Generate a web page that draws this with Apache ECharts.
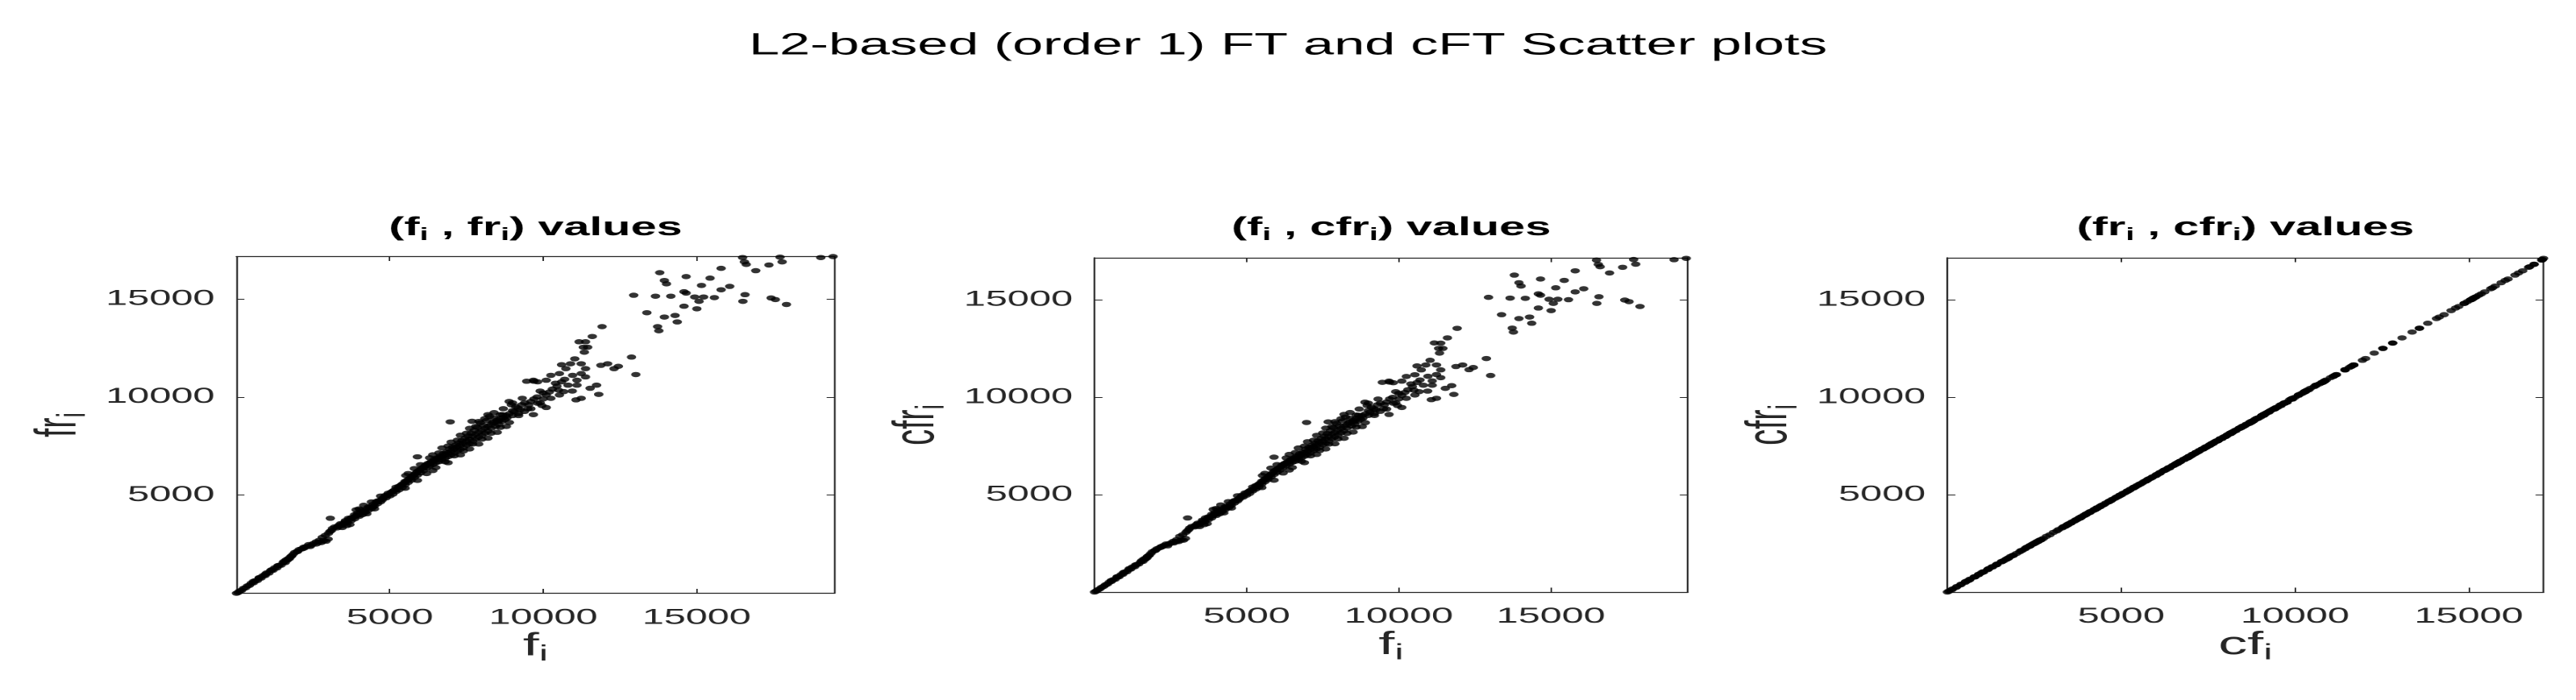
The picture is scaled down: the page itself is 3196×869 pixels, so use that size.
<!DOCTYPE html>
<html>
<head>
<meta charset="utf-8">
<title>L2-based (order 1) FT and cFT Scatter plots</title>
<script src="https://cdn.jsdelivr.net/npm/echarts@6/dist/echarts.min.js"></script>
<style>
  html, body { margin: 0; padding: 0; background: #fff; overflow: hidden; }
  /* the reference figure is stretched sideways, so draw narrow and stretch */
  #chart { width: 1776px; height: 869px; transform: scaleX(1.79955); transform-origin: 0 0; }
</style>
</head>
<body>
<div id="chart"></div>
<script>
// (f_i, fr_i) pairs
const fFr = [
  [0, 0], [50, 40], [110, 120], [170, 150], [230, 250], [300, 280], [360, 380], [420, 400], [480, 510], [550, 530],
  [610, 640], [680, 650], [740, 780], [800, 770], [870, 900], [930, 900], [990, 1040], [1060, 1030], [1120, 1160], [1190, 1170],
  [1250, 1300], [1320, 1290], [1380, 1420], [1450, 1430], [1520, 1560], [1590, 1560], [1660, 1690], [1720, 1760], [1780, 1880], [1850, 1990],
  [1900, 2080], [1980, 2120], [2050, 2230], [2130, 2260], [2200, 2350], [2280, 2380], [2360, 2480], [2440, 2450], [2520, 2540], [2600, 2510],
  [2680, 2600], [2760, 2580], [2840, 2680], [2920, 2650], [2990, 2760], [3060, 3820], [3130, 3300], [3200, 3380], [3280, 3330], [3350, 3480],
  [3420, 3440], [3500, 3560], [3560, 3650], [3620, 3590], [3680, 3760], [3740, 3700], [3800, 3860], [3850, 3790], [3900, 3950], [3950, 4080],
  [4000, 3920], [4050, 4110], [4100, 4000], [4150, 4200], [4200, 4120], [4250, 4300], [4300, 4230], [4350, 4380], [4400, 4320], [4450, 4520],
  [4500, 4450], [4550, 4640], [4600, 4560], [4650, 4720], [4700, 4660], [4760, 4820], [4820, 4900], [4880, 4860], [4940, 5020], [5000, 4960],
  [3900, 4250], [4150, 4480], [4400, 4650], [3700, 3500], [4250, 4050], [5050, 5150], [5100, 5050], [5150, 5250], [5200, 5180], [5250, 5350],
  [5300, 5270], [5350, 5480], [5400, 5380], [5450, 5600], [5500, 5530], [5520, 6000], [5550, 5720], [5600, 5650], [5650, 5850], [5700, 5760],
  [5750, 5990], [5800, 5900], [5850, 6120], [5900, 6950], [5900, 6020], [5950, 6250], [6000, 6130], [6050, 6380], [6100, 6250], [6150, 6500],
  [6200, 6380], [6250, 6620], [6300, 6480], [6350, 6700], [6400, 6560], [6450, 6820], [6500, 6650], [6550, 6900], [6600, 6700], [6650, 7000],
  [6700, 6800], [6750, 7120], [6800, 6880], [6850, 7200], [6900, 6960], [6950, 7350], [6970, 8730], [7000, 7050], [7050, 7450], [7100, 7150],
  [7150, 7550], [7200, 7250], [7250, 7650], [7300, 7330], [7350, 7780], [7400, 7420], [7450, 7900], [7500, 7550], [7550, 8000], [7600, 7620],
  [7650, 8150], [7680, 8760], [7700, 7750], [7750, 8300], [7800, 7850], [7850, 8450], [7900, 7950], [7950, 8680], [8000, 8050], [8050, 8550],
  [8100, 8150], [8150, 8800], [8200, 8250], [8250, 9010], [8300, 8400], [8350, 8700], [8400, 8930], [8450, 8500], [8500, 8820], [8540, 8760],
  [8550, 8600], [8600, 9100], [8650, 8750], [8680, 9100], [8750, 8850], [8820, 8930], [8890, 9770], [8960, 9600], [9000, 9050], [9050, 9250],
  [9100, 9500], [9180, 9430], [9250, 9350], [9320, 9930], [9390, 9260], [9460, 10800], [9530, 9600], [9600, 9770], [9680, 9100], [9680, 10850],
  [9700, 10800], [9820, 9680], [9820, 10770], [9960, 9560], [10100, 9460], [9900, 10300], [10000, 9900], [10100, 10850], [10100, 10100], [10200, 10250],
  [10250, 11100], [10250, 9930], [10300, 10400], [10400, 10700], [10450, 10550], [10500, 10350], [10530, 11190], [10530, 10100], [10600, 11640], [10600, 10770],
  [10670, 10270], [10700, 10900], [10740, 11440], [10810, 10600], [10890, 11690], [10950, 10300], [10960, 11100], [11030, 11940], [11070, 9850], [11100, 10850],
  [11100, 10600], [11240, 11690], [11240, 11190], [11240, 9930], [11380, 11440], [11380, 11020], [11530, 10440], [11740, 10600], [11810, 10130], [11880, 11610],
  [12100, 11690], [12310, 11440], [12450, 11560], [12880, 12030], [13020, 11140], [11920, 13580], [11600, 13080], [11380, 12810], [11170, 12810], [11310, 12530],
  [11450, 12530], [11340, 12280], [12950, 15180], [13380, 14290], [13660, 15130], [13730, 13580], [13770, 13370], [13800, 16330], [13950, 15930], [14020, 15760],
  [13950, 14070], [14300, 14150], [14370, 13820], [14160, 15130], [14590, 15360], [14660, 15290], [14590, 14620], [14660, 16130], [14940, 15090], [15230, 15090],
  [15080, 14870], [15010, 14490], [15160, 15680], [15440, 16050], [15580, 15060], [15800, 16550], [15800, 15460], [16080, 15630], [16580, 15210], [16510, 14870],
  [16500, 17100], [16560, 16880], [16620, 16750], [16930, 16430], [17360, 16720], [17430, 15040], [17570, 14960], [17720, 17120], [17790, 16880], [17930, 14710],
  [19050, 17100], [19450, 17150],
  [1620, 1700], [1680, 1750], [1740, 1820], [1800, 1900], [2700, 2700], [2800, 2850], [2900, 2950], [3000, 3050], [3050, 3150], [3100, 3200],
  [2000, 2150], [2200, 2300], [2400, 2380], [2600, 2620], [1550, 1620], [1350, 1400], [1150, 1200], [950, 980], [750, 800], [550, 600],
  [3550, 3700], [3650, 3820], [3750, 3850], [3850, 4000], [3950, 3980], [4050, 4250], [4150, 4100], [4300, 4400], [4450, 4400], [4600, 4700],
  [4750, 4750], [4850, 4980], [4950, 5100], [3300, 3400], [3400, 3550], [3600, 3450], [3450, 3350], [4000, 4300], [4700, 4950], [4500, 4300],
  [5100, 5200], [5200, 5400], [5300, 5450], [5400, 5550], [5500, 5700], [5600, 5800], [5700, 5900], [5800, 6050], [5900, 6200], [6000, 6300],
  [6100, 6400], [6200, 6550], [6300, 6600], [6400, 6700], [6500, 6800], [6600, 6900], [6700, 6950], [6800, 7050], [6900, 7150], [7000, 7250],
  [7100, 7350], [7200, 7450], [7300, 7550], [7400, 7650], [7500, 7750], [7600, 7850], [7700, 8000], [7800, 8100], [7900, 8200], [8000, 8300],
  [8100, 8400], [8200, 8500], [8300, 8600], [8400, 8700], [8500, 8750], [8600, 8900], [8700, 8950], [8800, 9050], [8900, 9150], [9000, 9300],
  [6300, 6900], [6600, 7150], [6900, 7500], [7200, 7800], [7500, 8150], [7800, 8500], [8100, 8900], [8400, 9200], [8700, 9400], [9000, 9700],
  [6200, 6100], [6500, 6400], [6800, 6700], [7100, 7000], [7400, 7250], [7700, 7600], [8000, 7850], [8300, 8150], [8600, 8450], [8900, 8700],
  [9200, 9050], [9400, 9700], [9500, 9400], [9200, 9150], [9600, 9400], [9300, 9600], [9800, 10000], [9700, 9900], [10000, 10200], [9900, 9700],
  [5600, 6100], [5800, 6350], [6000, 6550], [6400, 7050], [6700, 7400], [7000, 7700], [7300, 8050], [7600, 8400], [7900, 8750], [8200, 9100],
  [5500, 5350], [5900, 5750], [6400, 6250], [6900, 6650], [7300, 7050], [7600, 7350], [7900, 7600], [8200, 7900], [8500, 8200], [8800, 8500]
]

// cfr_i, same order as fFr
const cfrVals = [
  0, 45, 115, 160, 240, 290, 370, 410, 500, 545,
  630, 660, 770, 780, 890, 910, 1030, 1040, 1150, 1180,
  1290, 1300, 1410, 1440, 1550, 1570, 1680, 1750, 1870, 1980,
  2070, 2130, 2220, 2270, 2340, 2390, 2470, 2460, 2530, 2520,
  2590, 2590, 2670, 2660, 2750, 3800, 3290, 3370, 3340, 3470,
  3430, 3550, 3640, 3600, 3750, 3710, 3850, 3800, 3940, 4070,
  3930, 4100, 4010, 4190, 4130, 4290, 4240, 4370, 4330, 4510,
  4460, 4630, 4570, 4710, 4670, 4810, 4890, 4870, 5010, 4970,
  4240, 4470, 4640, 3510, 4060, 5140, 5060, 5240, 5190, 5340,
  5280, 5470, 5390, 5590, 5540, 5980, 5710, 5660, 5840, 5770,
  5980, 5910, 6110, 6920, 6030, 6240, 6140, 6360, 6260, 6490,
  6390, 6600, 6490, 6690, 6570, 6800, 6660, 6880, 6710, 6980,
  6810, 7100, 6890, 7180, 6970, 7330, 8700, 7060, 7430, 7160,
  7530, 7260, 7630, 7340, 7760, 7430, 7880, 7560, 7980, 7630,
  8130, 8730, 7760, 8280, 7860, 8430, 7960, 8650, 8060, 8530,
  8160, 8780, 8260, 8980, 8410, 8680, 8910, 8510, 8800, 8740,
  8610, 9080, 8760, 9070, 8860, 8920, 9740, 9570, 9060, 9230,
  9480, 9410, 9360, 9900, 9270, 10760, 9610, 9750, 9110, 10820,
  10770, 9690, 10740, 9570, 9470, 10280, 9910, 10820, 10090, 10240,
  11060, 9940, 10380, 10680, 10540, 10360, 11150, 10110, 11600, 10750,
  10280, 10880, 11400, 10610, 11650, 10310, 11070, 11890, 9870, 10830,
  10610, 11650, 11160, 9940, 11400, 11000, 10450, 10590, 10140, 11570,
  11650, 11410, 11520, 11980, 11110, 13530, 13040, 12770, 12780, 12500,
  12500, 12260, 15120, 14230, 15080, 13540, 13340, 16260, 15870, 15700,
  14030, 14110, 13790, 15070, 15300, 15230, 14570, 16060, 15020, 15020,
  14810, 14440, 15610, 15990, 15000, 16480, 15400, 15560, 15150, 14810,
  17030, 16810, 16690, 16370, 16660, 14980, 14900, 17060, 16820, 14650,
  17050, 17120,
  1690, 1740, 1830, 1890, 2690, 2860, 2940, 3060, 3140, 3210,
  2140, 2310, 2370, 2610, 1610, 1390, 1210, 990, 790, 590,
  3690, 3810, 3860, 3990, 3990, 4240, 4110, 4390, 4410, 4690,
  4760, 4970, 5090, 3390, 3540, 3460, 3360, 4290, 4940, 4310,
  5190, 5390, 5460, 5540, 5690, 5810, 5890, 6040, 6210, 6290,
  6390, 6540, 6610, 6690, 6810, 6890, 6960, 7040, 7160, 7240,
  7340, 7460, 7540, 7660, 7740, 7860, 7990, 8110, 8190, 8310,
  8390, 8510, 8590, 8710, 8740, 8910, 8940, 9060, 9140, 9310,
  6880, 7160, 7490, 7790, 8160, 8490, 8890, 9210, 9390, 9690,
  6110, 6390, 6710, 6990, 7260, 7590, 7860, 8140, 8460, 8690,
  9060, 9690, 9410, 9160, 9390, 9610, 9990, 9910, 10190, 9710,
  6090, 6360, 6540, 7060, 7390, 7710, 8040, 8410, 8740, 9110,
  5360, 5740, 6260, 6640, 7060, 7340, 7610, 7890, 8210, 8490
]

const fMax = 19500
const frMax = 17150
const tickStep = 5000

const FONT = "'Liberation Sans', Arial, Helvetica, sans-serif"
const AXIS_COLOR = '#262626'

const panels = [
  {
    rect: { left: 163, top: 318.5, width: 412.4, height: 418 },
    title: '{n|(f}{s|i}{n| , fr}{s|i}{n|) values}',
    xName: '{n|f}{s|i}', yName: '{n|fr}{s|i}',
    xMax: fMax, yMax: frMax,
    data: fFr.map(p => [p[0], p[1]])
  },
  {
    rect: { left: 754.6, top: 320, width: 409, height: 415 },
    title: '{n|(f}{s|i}{n| , cfr}{s|i}{n|) values}',
    xName: '{n|f}{s|i}', yName: '{n|cfr}{s|i}',
    xMax: fMax, yMax: frMax,
    data: fFr.map((p, i) => [p[0], cfrVals[i]])
  },
  {
    rect: { left: 1342.6, top: 320, width: 411, height: 415 },
    title: '{n|(fr}{s|i}{n| , cfr}{s|i}{n|) values}',
    xName: '{n|cf}{s|i}', yName: '{n|cfr}{s|i}',
    xMax: frMax, yMax: frMax,
    data: fFr.map((p, i) => [p[1], cfrVals[i]])
  }
]

// main text + lowered subscript
function subRich(size, subSize, pad, bold) {
  const w = bold ? 'bold' : 'normal'
  const c = bold ? '#000' : AXIS_COLOR
  return {
    n: { fontSize: size, fontWeight: w, fontFamily: FONT, color: c, verticalAlign: 'top', lineHeight: size + 4 },
    s: { fontSize: subSize, fontWeight: w, fontFamily: FONT, color: c, verticalAlign: 'bottom', lineHeight: subSize, padding: [pad, 0, 0, 0] }
  }
}

const lineStyle = { color: AXIS_COLOR, width: 1.2 }

function valueAxis(gridIndex, position, max, withLabels, name, nameGap) {
  const ax = {
    type: 'value',
    gridIndex: gridIndex,
    position: position,
    min: 0,
    max: max,
    interval: tickStep,
    axisLine: { show: true, onZero: false, lineStyle: lineStyle },
    axisTick: { show: true, inside: true, length: 5.5, lineStyle: { color: AXIS_COLOR, width: 1 } },
    axisLabel: {
      show: withLabels,
      margin: position === 'bottom' ? 17 : 15,
      fontSize: 27,
      fontFamily: FONT,
      color: AXIS_COLOR,
      showMinLabel: false,
      showMaxLabel: false,
      formatter: v => String(v)
    },
    splitLine: { show: false },
    axisPointer: { show: false }
  }
  if (name) {
    ax.name = name
    ax.nameLocation = 'middle'
    ax.nameGap = nameGap
    ax.nameMoveOverlap = false
    ax.nameTextStyle = { fontWeight: 'normal', rich: subRich(40, 28, 23, false) }
  }
  return ax
}

const grids = []
const xAxes = []
const yAxes = []
const titles = [{
  text: 'L2-based (order 1) FT and cFT Scatter plots',
  left: 888,
  top: 38,
  textAlign: 'center',
  padding: 0,
  textStyle: { fontSize: 38, lineHeight: 38, fontWeight: 'normal', fontFamily: FONT, color: '#000' }
}]
const series = []

panels.forEach((p, i) => {
  grids.push(Object.assign({ containLabel: false, outerBoundsMode: 'none' }, p.rect))
  xAxes.push(valueAxis(i, 'bottom', p.xMax, true, p.xName, 46))
  xAxes.push(valueAxis(i, 'top', p.xMax, false))
  yAxes.push(valueAxis(i, 'left', p.yMax, true, p.yName, 98))
  yAxes.push(valueAxis(i, 'right', p.yMax, false))
  titles.push({
    text: p.title,
    left: p.rect.left + p.rect.width / 2,
    top: 267,
    textAlign: 'center',
    padding: 0,
    textStyle: { rich: subRich(32, 22, 22, true) }
  })
  series.push({
    type: 'scatter',
    xAxisIndex: i * 2,
    yAxisIndex: i * 2,
    symbol: 'circle',
    symbolSize: 6.5,
    itemStyle: { color: '#000' },
    silent: true,
    data: p.data
  })
})

const chart = echarts.init(document.getElementById('chart'), null, { renderer: 'canvas', devicePixelRatio: 2 })
chart.setOption({
  animation: false,
  backgroundColor: '#fff',
  title: titles,
  grid: grids,
  xAxis: xAxes,
  yAxis: yAxes,
  series: series
})
</script>
</body>
</html>
